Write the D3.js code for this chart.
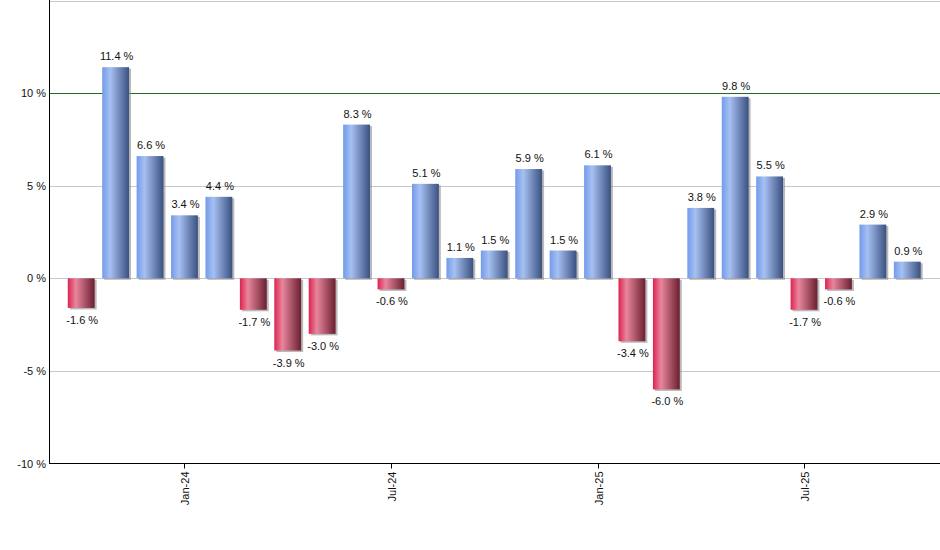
<!DOCTYPE html>
<html>
<head>
<meta charset="utf-8">
<script src="https://cdn.jsdelivr.net/npm/d3@7"></script>
<style>
  body { margin: 0; background: #fff; }
  svg { display: block; font-family: "Liberation Sans", Arial, sans-serif; }
</style>
</head>
<body>
<svg id="chart" width="940" height="550"></svg>
<script>
// monthly returns, Oct-23 .. Oct-25
const months = [
    'Oct-23', 'Nov-23', 'Dec-23', 'Jan-24', 'Feb-24', 'Mar-24', 'Apr-24', 'May-24', 'Jun-24',
    'Jul-24', 'Aug-24', 'Sep-24', 'Oct-24', 'Nov-24', 'Dec-24', 'Jan-25', 'Feb-25', 'Mar-25',
    'Apr-25', 'May-25', 'Jun-25', 'Jul-25', 'Aug-25', 'Sep-25', 'Oct-25',
];
const returns = [
    -1.6, 11.4, 6.6, 3.4, 4.4, -1.7, -3.9, -3.0, 8.3,
    -0.6, 5.1, 1.1, 1.5, 5.9, 1.5, 6.1, -3.4, -6.0,
    3.8, 9.8, 5.5, -1.7, -0.6, 2.9, 0.9,
];
const yTicks = [-10, -5, 0, 5, 10];
const gridValues = [-5, 0, 5, 15];
const xTickLabels = ['Jan-24', 'Jul-24', 'Jan-25', 'Jul-25'];

const svg = d3.select('#chart');
const plot = { left: 49, right: 940, top: 0.5, bottom: 463.5 };

const x = d3.scaleBand()
    .domain(months)
    .range([64, 924.5])
    .paddingInner(0.22)
    .paddingOuter(0.11);

const y = d3.scaleLinear()
    .domain([-10, 15])
    .range([plot.bottom, plot.top]);

const defs = svg.append('defs');
function addGradient(id, stops) {
    const g = defs.append('linearGradient')
        .attr('id', id)
        .attr('x1', '0%').attr('x2', '100%')
        .attr('y1', '0%').attr('y2', '0%');
    stops.forEach(([o, c]) => g.append('stop').attr('offset', o).attr('stop-color', c));
}
addGradient('gradPos', [['0%', '#739bea'], ['30%', '#a6c0f2'], ['100%', '#3a5180']]);
addGradient('gradNeg', [['0%', '#dc2350'], ['30%', '#e8869c'], ['100%', '#6a1f30']]);

// grid lines
svg.append('g')
    .selectAll('line')
    .data(gridValues)
    .enter().append('line')
    .attr('x1', plot.left)
    .attr('x2', plot.right)
    .attr('y1', d => Math.round(y(d)) + 0.5)
    .attr('y2', d => Math.round(y(d)) + 0.5)
    .attr('stroke', '#c8c8c8')
    .attr('stroke-width', 1);

svg.append('line')
    .attr('x1', plot.left)
    .attr('x2', plot.right)
    .attr('y1', Math.round(y(10)) + 0.5)
    .attr('y2', Math.round(y(10)) + 0.5)
    .attr('stroke', '#1a6e1a')
    .attr('stroke-width', 1);

// bars
const bars = svg.append('g');
const barData = months.map((m, i) => ({ month: m, value: returns[i] }));

bars.selectAll('rect.shadow')
    .data(barData)
    .enter().append('rect')
    .attr('class', 'shadow')
    .attr('x', d => x(d.month) + 2)
    .attr('y', d => Math.min(y(d.value), y(0)) + 1.5)
    .attr('width', x.bandwidth())
    .attr('height', d => Math.abs(y(d.value) - y(0)))
    .attr('fill', '#8a8a8a')
    .attr('opacity', 0.6);

bars.selectAll('rect.bar')
    .data(barData)
    .enter().append('rect')
    .attr('class', 'bar')
    .attr('x', d => x(d.month))
    .attr('y', d => Math.min(y(d.value), y(0)))
    .attr('width', x.bandwidth())
    .attr('height', d => Math.abs(y(d.value) - y(0)))
    .attr('fill', d => d.value >= 0 ? 'url(#gradPos)' : 'url(#gradNeg)');

// value labels
svg.append('g')
    .selectAll('text')
    .data(barData)
    .enter().append('text')
    .attr('x', d => x(d.month) + x.bandwidth() / 2 + 1)
    .attr('y', d => d.value >= 0 ? y(d.value) - 7 : y(d.value) + 16)
    .attr('text-anchor', 'middle')
    .attr('font-size', 11)
    .attr('fill', '#111')
    .text(d => `${d.value.toFixed(1)} %`);

// y axis
const yAxis = svg.append('g');
yAxis.append('line')
    .attr('x1', plot.left + 0.5).attr('x2', plot.left + 0.5)
    .attr('y1', 0).attr('y2', plot.bottom)
    .attr('stroke', '#000');
yAxis.selectAll('text')
    .data(yTicks)
    .enter().append('text')
    .attr('x', plot.left - 3)
    .attr('y', d => y(d) + 4)
    .attr('text-anchor', 'end')
    .attr('font-size', 11)
    .attr('fill', '#111')
    .text(d => `${d} %`);

// x axis
const xAxis = svg.append('g');
xAxis.append('line')
    .attr('x1', plot.left).attr('x2', plot.right)
    .attr('y1', plot.bottom).attr('y2', plot.bottom)
    .attr('stroke', '#000');
const xt = xAxis.selectAll('g.tick')
    .data(xTickLabels)
    .enter().append('g')
    .attr('class', 'tick')
    .attr('transform', d => `translate(${Math.round(x(d) + x.bandwidth() / 2) + 0.5},${plot.bottom})`);
xt.append('line')
    .attr('y1', 0).attr('y2', 5)
    .attr('stroke', '#000');
xt.append('text')
    .attr('transform', 'rotate(-90)')
    .attr('x', -8)
    .attr('y', 4)
    .attr('text-anchor', 'end')
    .attr('font-size', 11)
    .attr('fill', '#111')
    .text(d => d);
</script>
</body>
</html>
